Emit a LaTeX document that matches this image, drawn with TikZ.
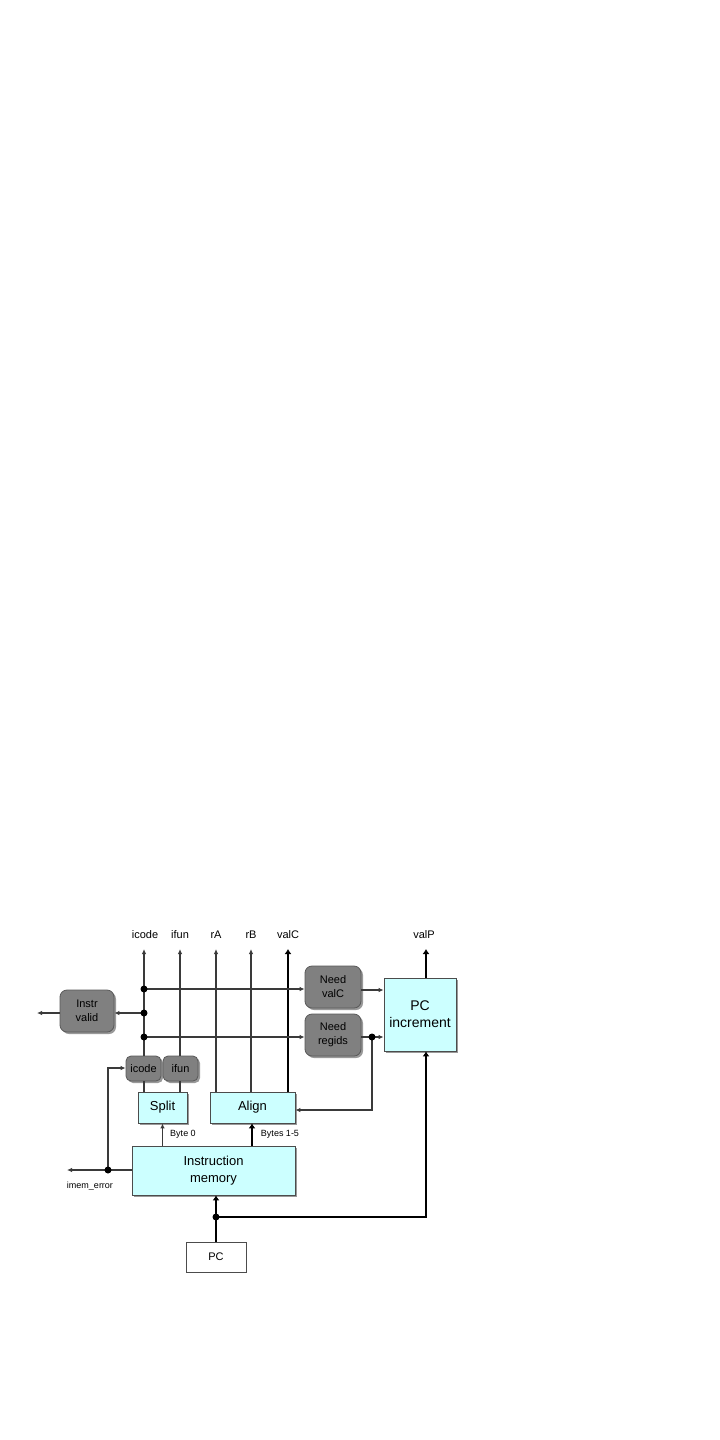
\documentclass[tikz,border=0pt]{standalone}
\usepackage{fontspec}
\setmainfont{Liberation Sans}
\usetikzlibrary{arrows.meta,shadows,calc}
\definecolor{cyanbox}{HTML}{CCFFFF}
\definecolor{graybox}{HTML}{808080}
\definecolor{wire}{HTML}{3A3A3A}
\begin{document}
\begin{tikzpicture}[x=1pt,y=-1pt,
  shad/.style={drop shadow={shadow xshift=2pt,shadow yshift=-2pt,fill=black!40,opacity=1}},
  hwbox/.style={draw=black!70,line width=0.8pt,fill=cyanbox,shad,font=\fontsize{13}{17}\selectfont,align=center,inner sep=0pt},
  ctlbox/.style={draw=black!65,line width=0.8pt,fill=graybox,rounded corners=7pt,shad,font=\fontsize{11}{14}\selectfont,align=center,inner sep=0pt},
  regbox/.style={draw=black!70,line width=0.8pt,fill=white,font=\fontsize{11}{13}\selectfont,inner sep=0pt},
  sig/.style={font=\fontsize{11}{13}\selectfont},
  small/.style={font=\fontsize{9}{11}\selectfont},
  thin/.style={draw=wire,line width=1.2pt},
  thick/.style={draw=black,line width=2.8pt},
  tip/.style={-{Latex[length=5pt,width=4.5pt]}},
  ttip/.style={-{Latex[length=5pt,width=7pt]}},
  jdot/.style={circle,fill=black,inner sep=0pt,minimum size=7pt}
]
\useasboundingbox[fill=white] (0,0) rectangle (720,1440);

% boxes
\node[ctlbox,minimum width=54,minimum height=42] (instr) at (87,1011) {Instr\\valid};
\node[ctlbox,minimum width=56,minimum height=42] (needvalc) at (333,987) {Need\\valC};
\node[ctlbox,minimum width=56,minimum height=42] (needregids) at (333,1035) {Need\\regids};
\node[ctlbox,rounded corners=5pt,minimum width=35,minimum height=25] (icodebox) at (143.5,1068.5) {icode};
\node[ctlbox,rounded corners=5pt,minimum width=35,minimum height=25] (ifunbox) at (180.5,1068.5) {ifun};
\node[hwbox,minimum width=49,minimum height=31] (split) at (162.5,1107.5) {Split};
\node[hwbox,minimum width=85,minimum height=31] (align) at (252.5,1107.5) {Align};
\node[hwbox,minimum width=163,minimum height=49] (imem) at (213.5,1170.5) {Instruction\\memory};
\node[hwbox,font=\fontsize{14}{17}\selectfont,minimum width=72,minimum height=73] (pcinc) at (420,1014.5) {PC\\increment};
\node[regbox,minimum width=60,minimum height=30] (pc) at (216,1257) {PC};

% top labels
\node[sig] (licode) at (145,935) {icode};
\node[sig] (lifun) at (180,935) {ifun};
\node[sig] (lra) at (216,935) {rA};
\node[sig] (lrb) at (251,935) {rB};
\node[sig] (lvalc) at (288,935) {valC};
\node[sig] (lvalp) at (424,935) {valP};
\node[small] (lbyte0) at (183,1134) {Byte 0};
\node[small] (lbytes) at (280,1134) {Bytes 1-5};
\node[small] (limem) at (90,1186) {imem\_error};

% coordinates
\coordinate (ticode) at (144,949);
\coordinate (tifun) at (180,949);
\coordinate (tra) at (216,949);
\coordinate (trb) at (251,949);
\coordinate (tvalc) at (288,949);
\coordinate (tvalp) at (426,949);
\coordinate (jA) at (144,989);
\coordinate (jB) at (144,1013);
\coordinate (jC) at (144,1037);
\coordinate (jR) at (372,1037);
\coordinate (jE) at (108,1170);
\coordinate (jP) at (216,1217);
\coordinate (iout) at (37,1013);
\coordinate (eout) at (67,1170);

% signal wires up
\draw[thin,tip] (icodebox.north -| ticode) -- (ticode);
\draw[thin,tip] (ifunbox.north -| tifun) -- (tifun);
\draw[thin,tip] (align.north -| tra) -- (tra);
\draw[thin,tip] (align.north -| trb) -- (trb);
\draw[thick,ttip] (align.north -| tvalc) -- (tvalc);
\draw[thin] (icodebox.south -| ticode) -- (split.north -| ticode);
\draw[thin] (ifunbox.south -| tifun) -- (split.north -| tifun);

% control wires
\draw[thin,tip] (jA) -- (jA -| needvalc.west);
\draw[thin,tip] (jC) -- (jC -| needregids.west);
\draw[thin,tip] (jB) -- (jB -| instr.east);
\draw[thin,tip] (instr.west |- iout) -- (iout);
\draw[thin,tip] (needvalc.east |- 0,990) -- (pcinc.west |- 0,990);
\draw[thin,tip] (needregids.east |- jR) -- (pcinc.west |- jR);
\draw[thin,tip] (jR) |- (align.east |- 0,1110);

% imem
\draw[thin,tip] (imem.north -| split.south) -- (split.south);
\draw[thick,ttip] (imem.north -| 252,0) -- (align.south -| 252,0);
\draw[thin,tip] (imem.west |- jE) -- (eout);
\draw[thin,tip] (jE) |- (icodebox.west |- 0,1068);

% PC
\draw[thick,ttip] (pc.north) -- (imem.south -| pc.north);
\draw[thick,ttip] (jP) -| (pcinc.south -| tvalp);
\draw[thick,ttip] (pcinc.north -| tvalp) -- (tvalp);

% junction dots
\foreach \p in {jA,jB,jC,jR,jE,jP} \node[jdot] at (\p) {};
\end{tikzpicture}
\end{document}
